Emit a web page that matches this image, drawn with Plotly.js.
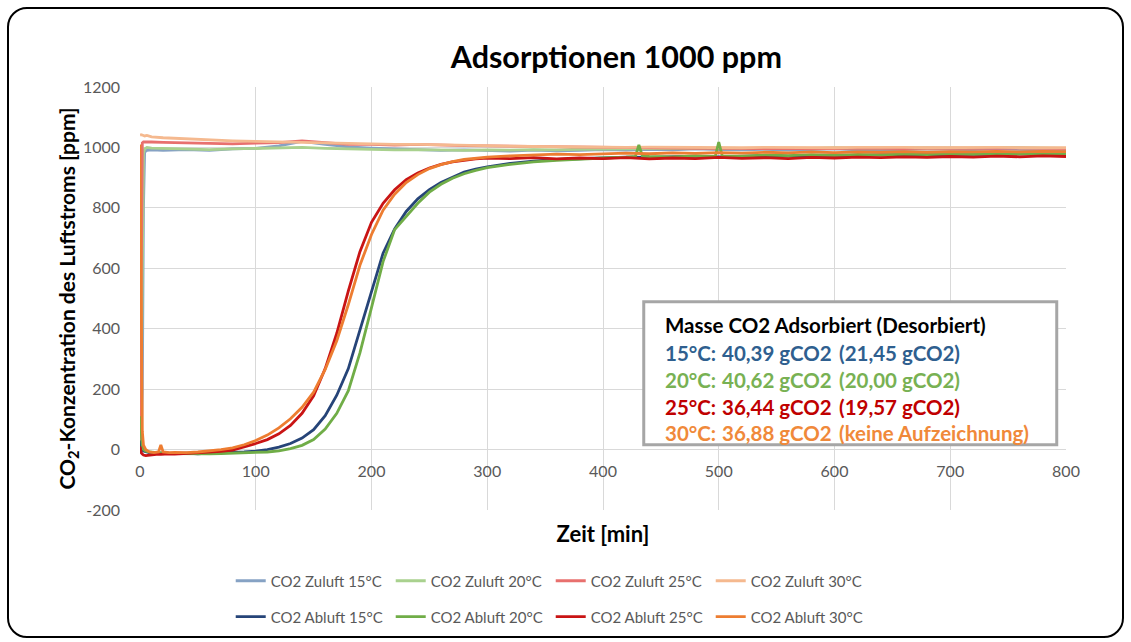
<!DOCTYPE html>
<html><head><meta charset="utf-8">
<script src="https://cdn.plot.ly/plotly-3.0.1.min.js"></script>
<style>
html,body{margin:0;padding:0;background:#fff}
#chart{width:1131px;height:642px}
#frame{position:absolute;left:7px;top:7px;width:1113px;height:627px;border:2px solid #000;border-radius:20px;pointer-events:none}
</style>
</head><body><div id="chart"></div><div id="frame"></div>
<script>
// ---------- data ----------
const tZuluft = [0,1,2,3,4,6,10,20,40,60,80,100,120,140,160,180,200,220,240,260,280,300,320,340,360,380,400,420,440,460,480,500,520,540,560,580,600,620,640,660,680,700,720,740,760,780,800];
const zuluft15 = [0,0,200,800,985,990,992,990,993,990,995,997,1005,1020,1010,1002,998,995,993,990,992,990,988,991,989,990,993,991,994,992,995,993,992,994,991,993,995,992,994,993,995,994,993,995,994,992,990];
const zuluft20 = [0,100,600,980,995,1000,998,997,995,993,995,997,998,1000,997,995,993,992,993,991,990,992,991,993,992,994,995,996,996,997,996,998,997,996,998,997,999,998,997,999,998,999,998,1000,999,998,997];
const zuluft25 = [0,600,1015,1018,1018,1020,1018,1017,1015,1013,1012,1014,1016,1022,1015,1010,1010,1008,1010,1007,1006,1005,1004,1003,1002,1000,1000,999,998,998,997,997,996,997,996,997,996,998,997,996,998,997,996,997,998,997,996];
const zuluft30 = [1040,1042,1041,1040,1038,1040,1035,1032,1028,1025,1022,1020,1018,1016,1014,1012,1012,1010,1010,1008,1007,1005,1004,1003,1002,1002,1001,1000,1001,1000,999,1000,999,1000,999,1000,999,1000,1001,1000,999,1000,1001,1000,999,1000,999];

const tAbluft = [0,1,2,3,5,8,12,16,18,20,25,30,40,50,60,70,80,90,100,110,120,130,140,150,160,170,180,190,200,210,220,230,240,250,260,270,280,290,300,320,340,360,380,400,420,440,460,480,500,520,540,560,580,600,620,640,660,680,700,720,740,760,780,800];
const abluft15 = [30,10,0,-5,-8,-10,-12,-10,-12,-10,-12,-13,-12,-14,-12,-11,-10,-8,-5,0,8,20,38,66,112,180,268,395,530,650,730,788,830,860,884,902,918,928,936,947,955,960,963,966,968,967,970,971,969,972,973,971,974,975,973,976,975,977,976,978,977,979,978,976];
const abluft25 = [10,-10,-15,-18,-20,-18,-16,-15,-16,-15,-14,-15,-13,-12,-10,-6,-2,8,20,33,52,80,120,178,268,385,525,655,752,815,860,893,915,932,944,952,958,962,965,963,966,962,965,963,966,962,965,963,967,964,966,963,967,965,968,966,969,967,970,968,971,969,972,970];
const abluft30 = [1010,500,60,15,0,-8,-10,-8,15,-8,-10,-9,-10,-8,-5,0,6,16,30,48,72,102,140,190,265,360,480,610,712,792,845,884,910,930,943,953,960,965,968,972,975,978,976,979,981,979,982,980,983,981,984,982,985,983,985,984,986,984,986,985,987,985,987,986];

const tAbluft20 = [0,1,2,3,5,8,12,16,20,30,40,50,60,70,80,90,100,110,120,130,140,150,160,170,180,190,200,210,220,230,240,250,260,270,280,290,300,320,340,360,380,400,420,428,431,434,440,460,480,497,500,503,520,540,560,580,600,620,640,660,680,700,720,740,760,780,800];
const abluft20 = [110,40,10,0,-5,-8,-10,-10,-12,-13,-14,-13,-14,-13,-12,-11,-10,-8,-4,3,14,33,68,120,195,320,470,622,728,772,815,852,878,898,913,924,933,944,952,957,962,965,968,970,1008,972,970,969,972,970,1018,972,971,975,973,976,974,977,975,978,976,979,977,980,978,980,979];

const seriesNames = ["CO2 Zuluft 15°C","CO2 Zuluft 20°C","CO2 Zuluft 25°C","CO2 Zuluft 30°C","CO2 Abluft 15°C","CO2 Abluft 20°C","CO2 Abluft 25°C","CO2 Abluft 30°C"];
const seriesColors = ["#86A2C4","#A9D18E","#E8706E","#F5B98F","#264478","#70AD47","#C91414","#ED7D31"];

const boxTitle = "Masse CO2 Adsorbiert (Desorbiert)";
const boxTemps = ["15°C:","20°C:","25°C:","30°C:"];
const boxAds = ["40,39 gCO2","40,62 gCO2","36,44 gCO2","36,88 gCO2"];
const boxDes = ["(21,45 gCO2)","(20,00 gCO2)","(19,57 gCO2)","(keine Aufzeichnung)"];
const boxColors = ["#2F5F8F","#78B153","#C00000","#F0893A"];

const xTicks = [0,100,200,300,400,500,600,700,800];
const yTicks = [-200,0,200,400,600,800,1000,1200];
const yTickLabels = ["-200","0","200","400","600","800","1000","1200"];

// ---------- chart ----------
const FONT = "Lato, 'Open Sans', sans-serif";
const xs = [tZuluft,tZuluft,tZuluft,tZuluft,tAbluft,tAbluft20,tAbluft,tAbluft];
const ys = [zuluft15,zuluft20,zuluft25,zuluft30,abluft15,abluft20,abluft25,abluft30];
const traces = ys.map((y,i)=>({
  type:'scatter', mode:'lines', x:xs[i], y:y, name:seriesNames[i],
  line:{color:seriesColors[i], width:2.8},
  legend: i<4 ? 'legend' : 'legend2'
}));

const yMin = yTicks[0], yMax = yTicks[yTicks.length-1];
const annotations = [];
const rowY = [0.371,0.307,0.243,0.182];
annotations.push({xref:'paper',yref:'paper',x:0.5648,y:0.437,xanchor:'left',yanchor:'middle',showarrow:false,
  text:'<b>'+boxTitle+'</b>',font:{family:FONT,size:20.5,color:'#000'}});
for(let i=0;i<4;i++){
  const f={family:FONT,size:20.5,color:boxColors[i]};
  annotations.push({xref:'paper',yref:'paper',x:0.5648,y:rowY[i],xanchor:'left',yanchor:'middle',showarrow:false,text:'<b>'+boxTemps[i]+'</b>',font:f});
  annotations.push({xref:'paper',yref:'paper',x:0.6263,y:rowY[i],xanchor:'left',yanchor:'middle',showarrow:false,text:'<b>'+boxAds[i]+'</b>',font:f});
  annotations.push({xref:'paper',yref:'paper',x:0.7527,y:rowY[i],xanchor:'left',yanchor:'middle',showarrow:false,text:'<b>'+boxDes[i]+'</b>',font:f});
}

const layout = {
  width:1131, height:642,
  margin:{l:140,r:65,t:87,b:132,autoexpand:false},
  paper_bgcolor:'#fff', plot_bgcolor:'#fff',
  font:{family:FONT,color:'#595959'},
  title:{text:'<b>Adsorptionen 1000 ppm</b>',font:{family:FONT,size:30.5,color:'#000'},x:0.545,xanchor:'center',y:0.91,yanchor:'middle'},
  xaxis:{range:[xTicks[0],xTicks[xTicks.length-1]],tickvals:xTicks,showgrid:true,gridcolor:'#D9D9D9',gridwidth:1,
    zeroline:false,showline:false,ticks:'',anchor:'free',position:(0-yMin)/(yMax-yMin),automargin:false,
    ticklabelstandoff:10,tickfont:{family:FONT,size:16,color:'#595959'},
    title:{text:'<b>Zeit [min]</b>',font:{family:FONT,size:22,color:'#000'},standoff:48}},
  yaxis:{range:[yMin,yMax],tickvals:yTicks,ticktext:yTickLabels,showgrid:true,gridcolor:'#D9D9D9',gridwidth:1,automargin:false,
    zeroline:false,showline:false,ticks:'',ticklabelstandoff:19,tickfont:{family:FONT,size:16,color:'#595959'},
    title:{text:'<b>CO<sub>2</sub>-Konzentration des Luftstroms [ppm]</b>',font:{family:FONT,size:21,color:'#000'},standoff:1}},
  showlegend:true,
  legend:{orientation:'h',xref:'container',yref:'container',x:0.204,xanchor:'left',y:0.095,yanchor:'middle',entrywidth:115,entrywidthmode:'pixels',
    font:{family:FONT,size:15,color:'#595959'},bgcolor:'rgba(0,0,0,0)'},
  legend2:{orientation:'h',xref:'container',yref:'container',x:0.204,xanchor:'left',y:0.039,yanchor:'middle',entrywidth:115,entrywidthmode:'pixels',
    font:{family:FONT,size:15,color:'#595959'},bgcolor:'rgba(0,0,0,0)'},
  shapes:[{type:'rect',xref:'paper',yref:'paper',x0:0.544,x1:0.990,y0:0.154,y1:0.4925,
    line:{color:'#A6A6A6',width:3},fillcolor:'#fff',layer:'above'}],
  annotations:annotations
};
Plotly.newPlot('chart',traces,layout,{staticPlot:true,displayModeBar:false});
</script></body></html>
